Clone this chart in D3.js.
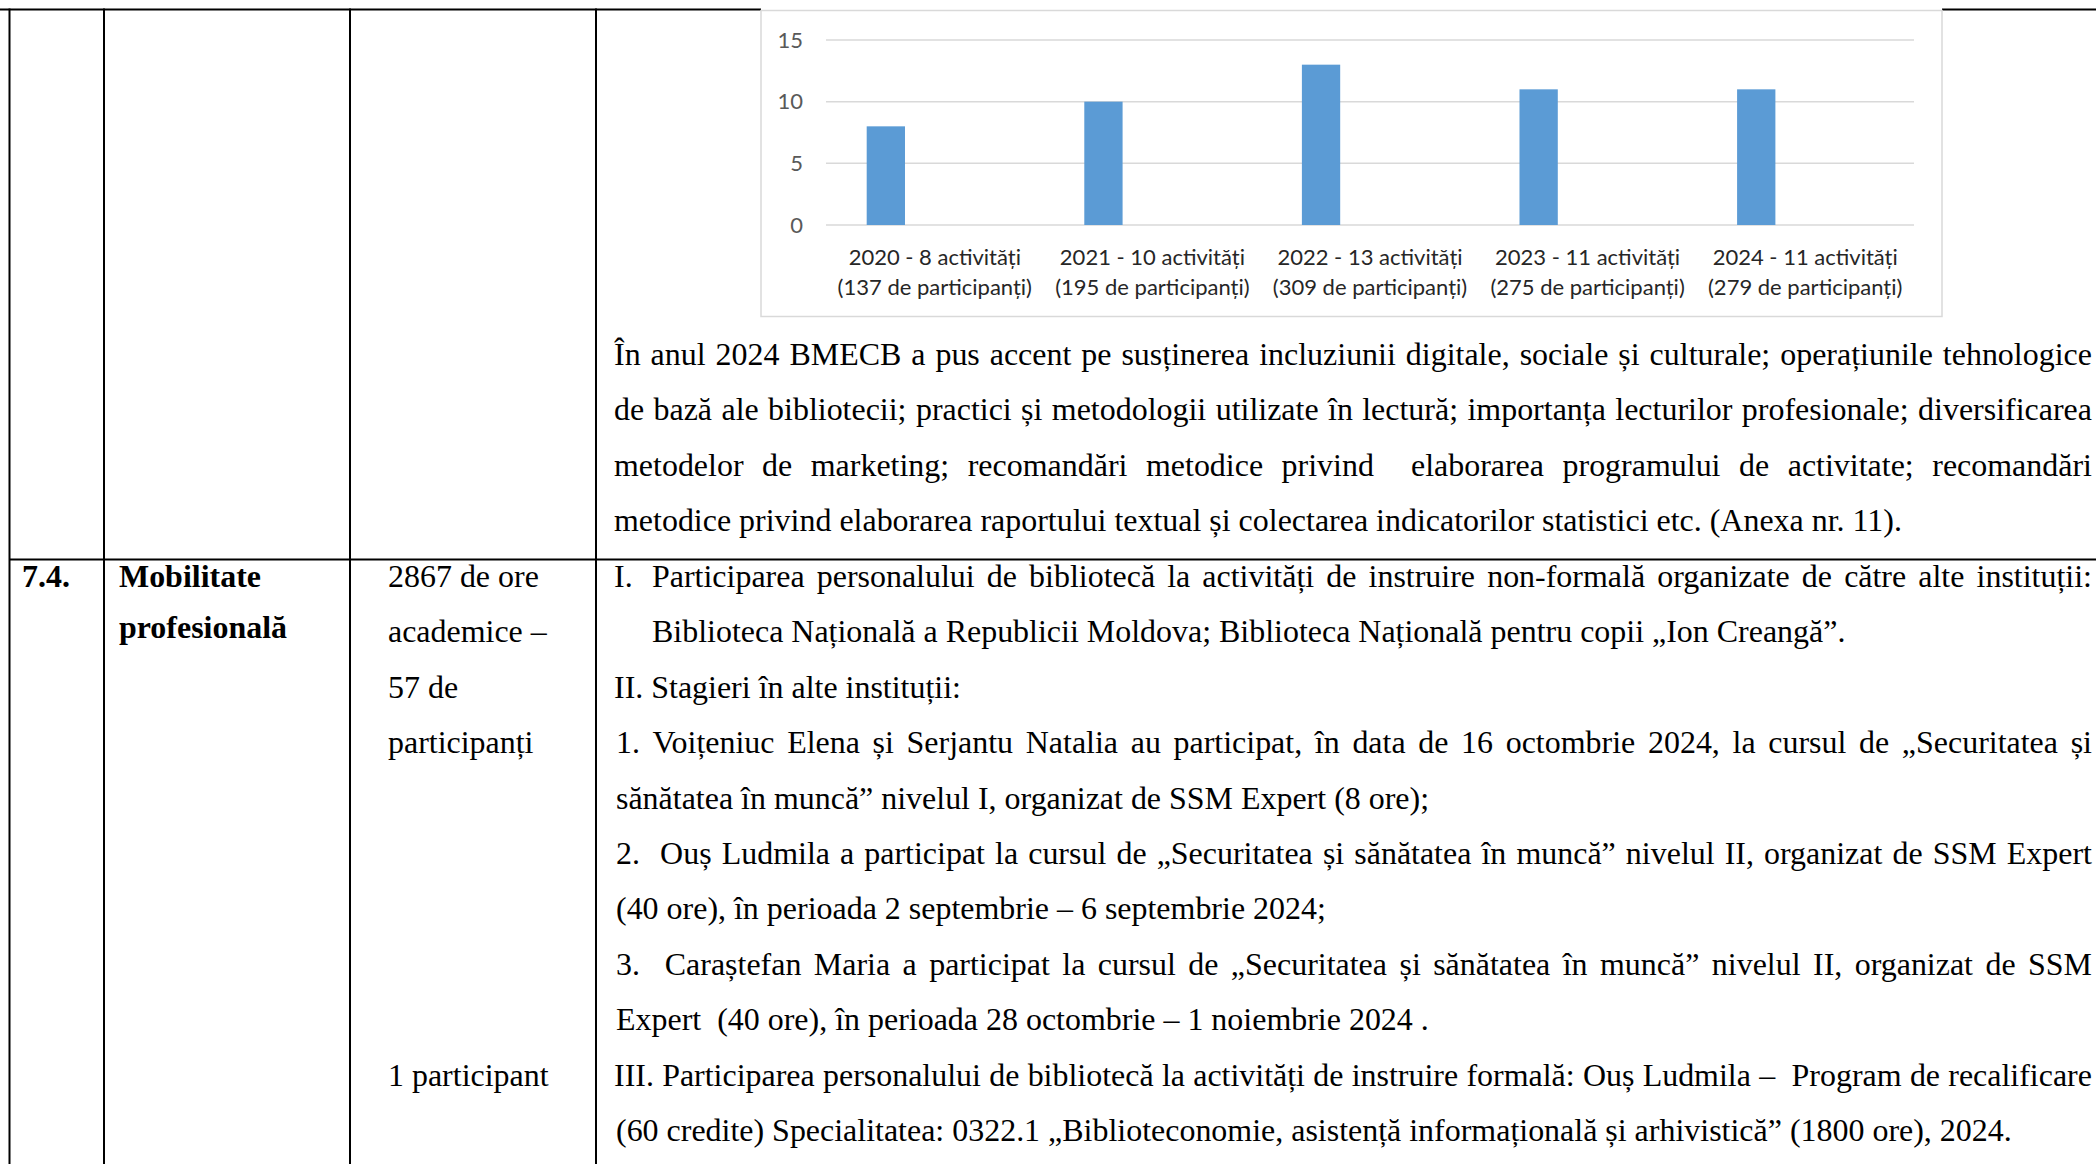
<!DOCTYPE html>
<html>
<head>
<meta charset="utf-8">
<script src="https://cdn.jsdelivr.net/npm/d3@7"></script>
<style>
html, body { margin: 0; padding: 0; background: #fff; overflow: hidden; }
</style>
</head>
<body>
<svg id="page" width="2096" height="1164"></svg>
<script>
// chart data
const years = ["2020", "2021", "2022", "2023", "2024"]
const activities = [8, 10, 13, 11, 11]
const participants = [137, 195, 309, 275, 279]
const yTicks = [0, 5, 10, 15]

// table text
const upperLines = [
    {t: "În anul 2024 BMECB a pus accent pe susținerea incluziunii digitale, sociale și culturale; operațiunile tehnologice", j: true},
    {t: "de bază ale bibliotecii; practici și metodologii utilizate în lectură; importanța lecturilor profesionale; diversificarea", j: true},
    {t: "metodelor de marketing; recomandări metodice privind  elaborarea programului de activitate; recomandări", j: true},
    {t: "metodice privind elaborarea raportului textual și colectarea indicatorilor statistici etc. (Anexa nr. 11)."},
]
const rowNumber = "7.4."
const rowTitle = ["Mobilitate", "profesională"]
const rowAmount = ["2867 de ore", "academice –", "57 de", "participanți"]
const rowAmount2 = "1 participant"
const rowLines = [
    {t: "Participarea personalului de bibliotecă la activități de instruire non-formală organizate de către alte instituții:", label: "I.", x: 652, j: true},
    {t: "Biblioteca Națională a Republicii Moldova; Biblioteca Națională pentru copii „Ion Creangă”.", x: 652},
    {t: "II. Stagieri în alte instituții:", x: 614},
    {t: "1. Voițeniuc Elena și Serjantu Natalia au participat, în data de 16 octombrie 2024, la cursul de „Securitatea și", x: 616, j: true},
    {t: "sănătatea în muncă” nivelul I, organizat de SSM Expert (8 ore);", x: 616},
    {t: "2.  Ouș Ludmila a participat la cursul de „Securitatea și sănătatea în muncă” nivelul II, organizat de SSM Expert", x: 616, j: true},
    {t: "(40 ore), în perioada 2 septembrie – 6 septembrie 2024;", x: 616},
    {t: "3.  Caraștefan Maria a participat la cursul de „Securitatea și sănătatea în muncă” nivelul II, organizat de SSM", x: 616, j: true},
    {t: "Expert  (40 ore), în perioada 28 octombrie – 1 noiembrie 2024 .", x: 616},
    {t: "III. Participarea personalului de bibliotecă la activități de instruire formală: Ouș Ludmila –  Program de recalificare", x: 614, j: true},
    {t: "(60 credite) Specialitatea: 0322.1 „Biblioteconomie, asistență informațională și arhivistică” (1800 ore), 2024.", x: 616},
]

const W = 2096, H = 1164
const serif = "'Liberation Serif', 'Times New Roman', serif"
const sans = "Lato, 'Open Sans', sans-serif"

const svg = d3.select("#page")

// measuring helper
let tmp = svg.append("text").attr("font-family", serif).style("white-space", "pre")
function measure(str, size, weight) {
    tmp.attr("font-size", size).attr("font-weight", weight || "normal").text(str)
    return tmp.node().getComputedTextLength()
}
// the page text is tall and narrow: keep the height, squeeze the width
const fs = 32
const k = 1194 / measure(rowLines[1].t, fs)

// table grid
const colX = [9.5, 104, 350, 596]
const topY = 9.5, rowY = 559.5
const box = {x: 761, y: 10.5, w: 1181, h: 306}

let grid = svg.append("g").attr("stroke", "#000").attr("stroke-width", 2)
grid.append("line").attr("x1", 0).attr("x2", box.x).attr("y1", topY).attr("y2", topY)
grid.append("line").attr("x1", box.x + box.w).attr("x2", W).attr("y1", topY).attr("y2", topY)
grid.append("line").attr("x1", colX[0]).attr("x2", W).attr("y1", rowY).attr("y2", rowY)
grid.selectAll("line.v").data(colX).join("line")
    .classed("v", true)
    .attr("x1", d => d).attr("x2", d => d)
    .attr("y1", topY - 1).attr("y2", H)

// text lines
const rightEdge = 2092
function drawLine(g, line, x, y, weight) {
    let text = g.append("text")
        .attr("font-family", serif)
        .attr("font-size", fs)
        .attr("font-weight", weight || "normal")
        .attr("transform", `scale(${k},1)`)
        .attr("y", y)
        .style("white-space", "pre")
    if (!line.j) {
        text.attr("x", x / k).text(line.t)
        return
    }
    let tokens = line.t.split(" ")
    let widths = tokens.map(t => t ? measure(t, fs, weight) : 0)
    let gap = ((rightEdge - x) / k - d3.sum(widths)) / (tokens.length - 1)
    let cx = x / k
    tokens.forEach((t, i) => {
        if (t) text.append("tspan").attr("x", cx).text(t)
        cx += widths[i] + gap
    })
}

let body = svg.append("g")
const lh = 55.4
upperLines.forEach((line, i) => drawLine(body, line, 614, 365 + i * lh))

const rowBase = 587
drawLine(body, {t: rowNumber}, 22, rowBase, "bold")
rowTitle.forEach((t, i) => drawLine(body, {t}, 119, rowBase + i * 51, "bold"))
rowAmount.forEach((t, i) => drawLine(body, {t}, 388, rowBase + i * lh))
drawLine(body, {t: rowAmount2}, 388, rowBase + 9 * lh)
rowLines.forEach((line, i) => {
    if (line.label) drawLine(body, {t: line.label}, 614, rowBase + i * lh)
    drawLine(body, line, line.x, rowBase + i * lh)
})
tmp.remove()

// chart
let chart = svg.append("g")
chart.append("rect")
    .attr("x", box.x).attr("y", box.y)
    .attr("width", box.w).attr("height", box.h)
    .attr("fill", "#fff")
    .attr("stroke", "#d9d9d9")
    .attr("stroke-width", 1.5)

const plot = {left: 826, right: 1914, top: 40, bottom: 225}
let x = d3.scaleBand().domain(years).range([plot.left, plot.right])
let y = d3.scaleLinear().domain([0, 15]).range([plot.bottom, plot.top])

chart.append("g")
    .selectAll("line")
    .data(yTicks)
    .join("line")
        .attr("x1", plot.left).attr("x2", plot.right)
        .attr("y1", d => y(d)).attr("y2", d => y(d))
        .attr("stroke", "#d9d9d9")
        .attr("stroke-width", 1.5)

let yAxis = chart.append("g")
    .attr("transform", `translate(${plot.left - 8},0)`)
    .call(d3.axisLeft(y).tickValues(yTicks).tickSize(0).tickPadding(15))
yAxis.select(".domain").remove()
yAxis.selectAll("text")
    .attr("font-family", sans)
    .attr("font-size", 22)
    .attr("fill", "#595959")

chart.append("g")
    .selectAll("rect")
    .data(years)
    .join("rect")
        .attr("x", d => x(d) + x.bandwidth() * 0.187)
        .attr("y", (d, i) => y(activities[i]))
        .attr("width", x.bandwidth() * 0.176)
        .attr("height", (d, i) => y(0) - y(activities[i]))
        .attr("fill", "#5b9bd5")

let labels = chart.append("g")
    .selectAll("text")
    .data(years)
    .join("text")
        .attr("font-family", sans)
        .attr("font-size", 22)
        .attr("fill", "#262626")
        .attr("text-anchor", "middle")
labels.append("tspan")
    .attr("x", d => x(d) + x.bandwidth() / 2)
    .attr("y", 265)
    .text((d, i) => `${d} - ${activities[i]} activități`)
labels.append("tspan")
    .attr("x", d => x(d) + x.bandwidth() / 2)
    .attr("y", 295)
    .text((d, i) => `(${participants[i]} de participanți)`)
</script>
</body>
</html>
